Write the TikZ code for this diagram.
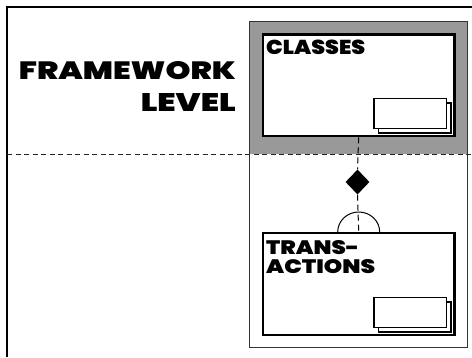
\documentclass[tikz,border=0pt]{standalone}
\usepackage{fontspec}
\usepackage{graphicx}
\usetikzlibrary{shapes.geometric}
% heaviest available sans for the headings
\IfFontExistsTF{Poppins Black}{%
  \newfontfamily\heavyfont{Poppins Black}%
}{%
  \IfFontExistsTF{Lato Black}{%
    \newfontfamily\heavyfont{Lato Black}%
  }{%
    \newfontfamily\heavyfont{DejaVu Sans Bold}%
  }%
}
\begin{document}
\begin{tikzpicture}[x=1pt,y=-1pt,
  frame/.style={draw=black, line width=1.4pt},
  column/.style={draw=black!80, line width=0.7pt},
  levelline/.style={draw=black!85, line width=1pt, dash pattern=on 5pt off 3.5pt},
  classbox/.style={rectangle, draw=black, line width=2.4pt, fill=white, inner sep=0pt,
    anchor=north west, minimum width=191.6pt},
  instbox/.style={draw=black, line width=1.7pt, fill=white},
  title/.style={font=\heavyfont, inner sep=0pt},
  link/.style={draw=black, line width=1pt, dash pattern=on 6pt off 4pt},
  aggr/.style={diamond, fill=black, inner sep=0pt, minimum width=24pt, minimum height=25pt},
  ]
\useasboundingbox (0,0) rectangle (472,357);

% framework column, shaded above the level line
\fill[black!40] (249,21) rectangle (467,154);
\draw[column] (249,21) rectangle (467,347);
\draw[frame] (7,357) -- (7,7) -- (472,7);
\draw[levelline] (7,154) -- (472,154);

% class boxes
\node[classbox, minimum height=101.7pt] (classes) at (261.7,33.3) {};
\node[classbox, minimum height=102pt] (transactions) at (261.7,232) {};

% stacked instance symbols
\foreach \b in {classes,transactions}{
  \draw[instbox] ([xshift=-4.8pt,yshift=4.3pt]\b.south east) rectangle ++(-72.5,-30);
  \draw[instbox] ([xshift=-9.3pt,yshift=9pt]\b.south east) rectangle ++(-72.5,-30);
}

% aggregation link
\node[aggr] (agg) at (357.5,182) {};
\draw[link] (classes.south) -- (agg.north);
\draw[link] (agg.south) -- (transactions.north);
\draw[line width=1pt] ([xshift=-21pt]transactions.north)
  arc[start angle=180, end angle=360, x radius=21, y radius=20];

% labels
\node[title, anchor=north west] (clsname) at (266,40) {\resizebox{99pt}{14.5pt}{CLASSES}};
\node[title, anchor=north west] (trname1) at (266,240) {\resizebox{93pt}{14pt}{TRANS-}};
\node[title, anchor=north west] (trname2) at (266,259.5) {\resizebox{109pt}{14pt}{ACTIONS}};
\node[title, anchor=north east] (lvl1) at (236,61) {\resizebox{217pt}{18pt}{FRAMEWORK}};
\node[title, anchor=north east] (lvl2) at (236,93) {\resizebox{95pt}{18pt}{LEVEL}};
\end{tikzpicture}
\end{document}
